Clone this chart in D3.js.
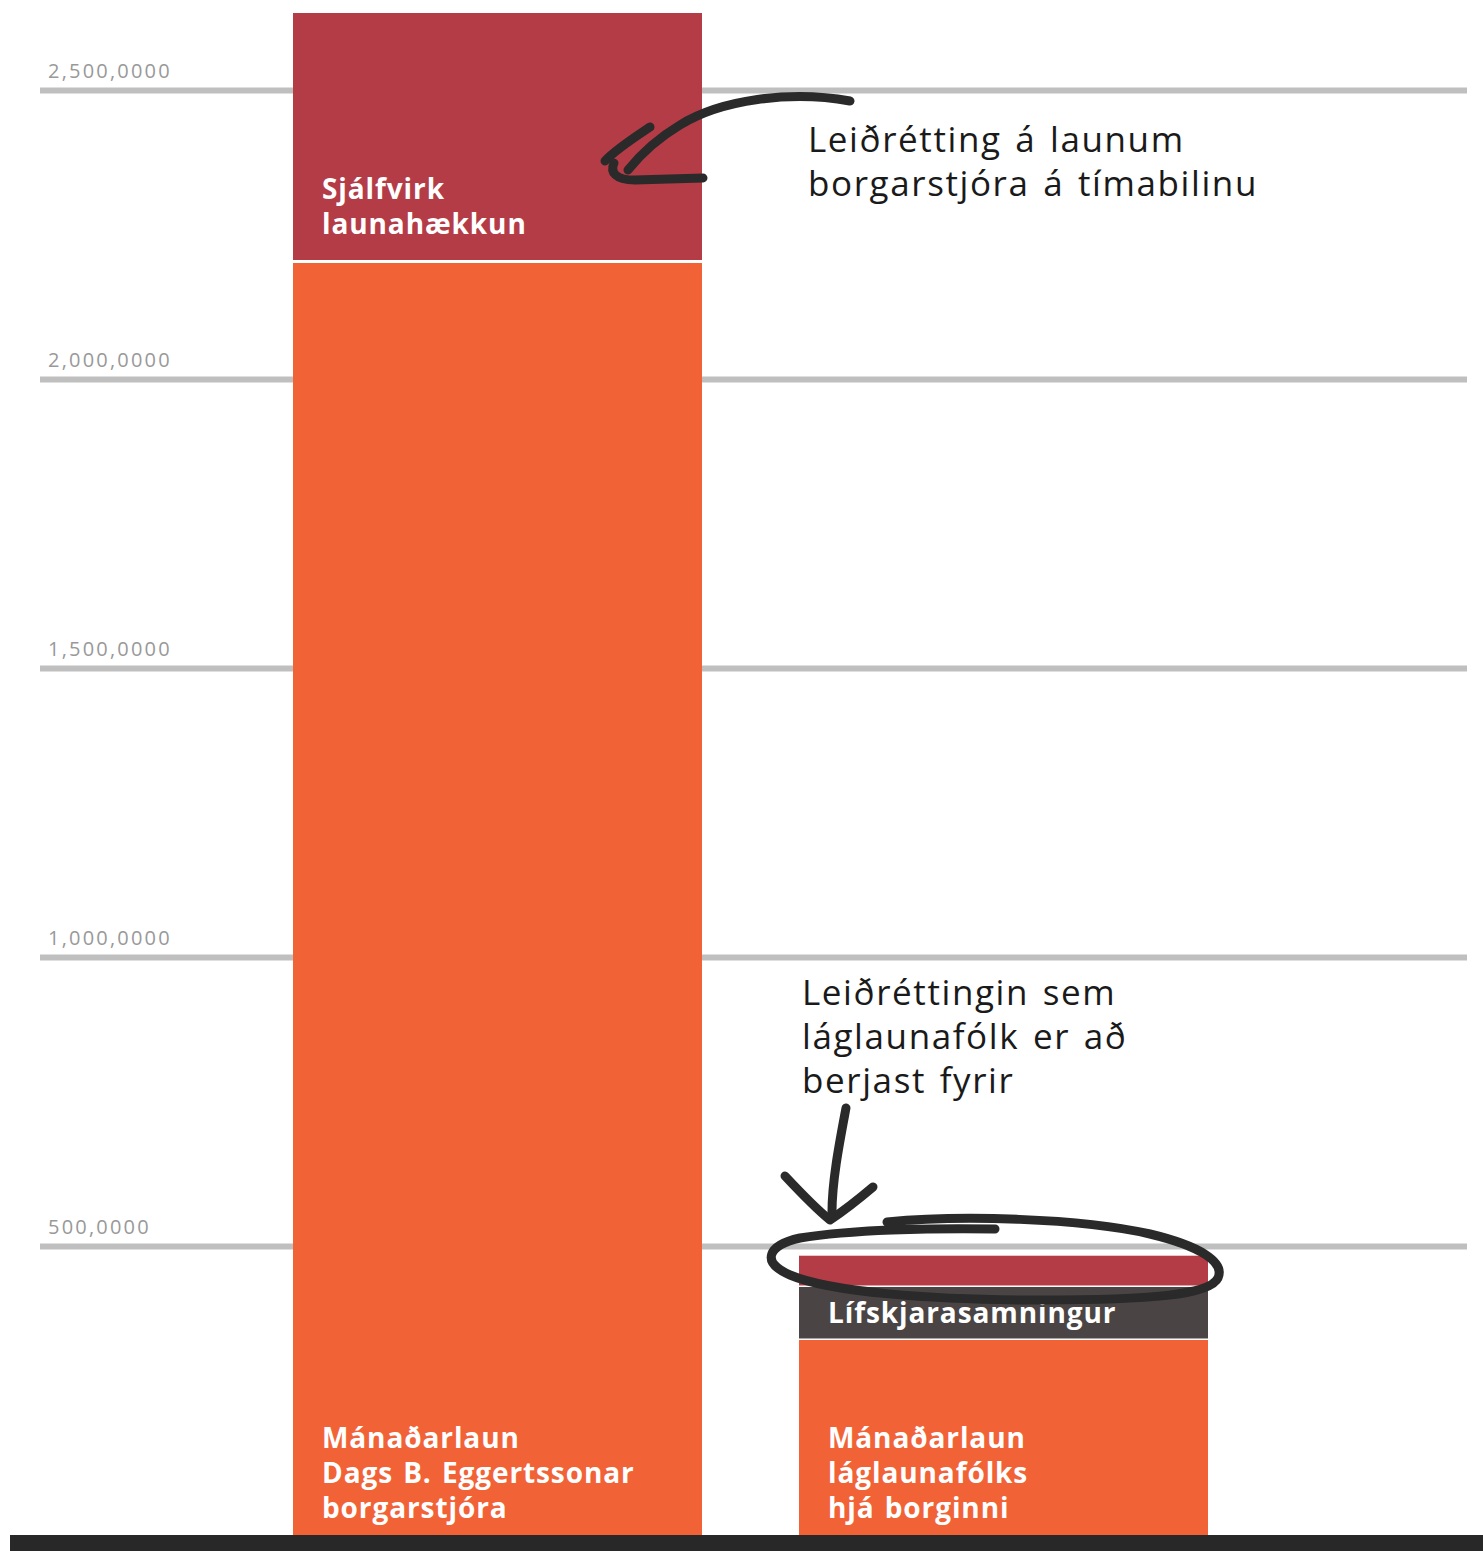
<!DOCTYPE html>
<html>
<head>
<meta charset="utf-8">
<script src="https://cdn.jsdelivr.net/npm/d3@7"></script>
<style>
body { margin: 0; background: #fff; }
svg { display: block; }
</style>
</head>
<body>
<script>
//chart data
var categories = ["borgarstjori", "laglaunafolk"];
var seriesNames = ["grunnlaun", "lifskjara", "leidretting"];
var grunnlaun = [2200700, 337400];
var lifskjara = [0, 91700];
var leidretting = [432500, 54100];

var segmentLabels = {
    grunnlaun: [["Mánaðarlaun", "Dags B. Eggertssonar", "borgarstjóra"], ["Mánaðarlaun", "láglaunafólks", "hjá borginni"]],
    lifskjara: [[], ["Lífskjarasamningur"]],
    leidretting: [["Sjálfvirk", "launahækkun"], []]
};

var tickValues = [500000, 1000000, 1500000, 2000000, 2500000];
var tickLabels = ["500,0000", "1,000,0000", "1,500,0000", "2,000,0000", "2,500,0000"];

var noteTop = ["Leiðrétting á launum", "borgarstjóra á tímabilinu"];
var noteBottom = ["Leiðréttingin sem", "láglaunafólk er að", "berjast fyrir"];

window.onload = function(){

    var w = 1483, h = 1551;
    var font = "'Open Sans', 'Noto Sans', sans-serif";

    var colors = { grunnlaun: "#F26237", lifskjara: "#4A4544", leidretting: "#B43C47" };
    var labelPad = { grunnlaun: 17, lifskjara: 15, leidretting: 26 };
    var gaps = [3, 1.5]; //white seam between stacked pieces, per bar

    var svg = d3.select("body")
        .append("svg")
        .attr("width", w)
        .attr("height", h);

    //scales
    var x = d3.scaleBand()
        .domain(categories)
        .range([293, 1208])
        .paddingInner(0.1917)
        .paddingOuter(0);

    var y = d3.scaleLinear()
        .domain([0, 2500000])
        .range([1535, 90]);

    //gridlines through the axis generator
    var yAxis = d3.axisLeft(y)
        .tickValues(tickValues)
        .tickSize(-(1467 - 40))
        .tickFormat(function(d, i){ return tickLabels[i]; });

    var axis = svg.append("g")
        .attr("class", "axis")
        .attr("transform", "translate(40,0)")
        .call(yAxis);

    axis.select(".domain").remove();
    axis.selectAll(".tick line")
        .attr("stroke", "#bfbfbf")
        .attr("stroke-width", 6);
    axis.selectAll(".tick text")
        .attr("x", 8)
        .attr("dy", "-13")
        .attr("text-anchor", "start")
        .style("font-family", font)
        .style("font-size", "20px")
        .style("letter-spacing", "2.2px")
        .style("fill", "#999999");

    //stacked bars
    var rows = categories.map(function(c, i){
        return { cat: c, grunnlaun: grunnlaun[i], lifskjara: lifskjara[i], leidretting: leidretting[i] };
    });
    var stack = d3.stack().keys(seriesNames)(rows);

    var layers = svg.selectAll(".layer")
        .data(stack)
        .enter()
        .append("g")
        .attr("class", "layer")
        .style("fill", function(d){ return colors[d.key]; });

    layers.selectAll("rect")
        .data(function(d){
            return d.map(function(p, i){ return { key: d.key, idx: d.index, i: i, p: p }; });
        })
        .enter()
        .append("rect")
        .attr("x", function(d){ return x(d.p.data.cat); })
        .attr("width", x.bandwidth())
        .attr("y", function(d){ return y(d.p[1]); })
        .attr("height", function(d){
            var hgt = y(d.p[0]) - y(d.p[1]);
            if (d.idx > 0) hgt -= gaps[d.i];
            return Math.max(0, hgt);
        });

    //labels inside the pieces
    stack.forEach(function(layer){
        layer.forEach(function(p, i){
            var lines = segmentLabels[layer.key][i];
            if (!lines.length) return;
            var bottom = y(p[0]) - (layer.index > 0 ? gaps[i] : 0);
            var last = bottom - labelPad[layer.key];
            var lh = 35;
            var t = svg.append("text")
                .attr("class", "segLabel")
                .style("font-family", font)
                .style("font-weight", 700)
                .style("font-size", "28px")
                .style("letter-spacing", "0.9px")
                .style("word-spacing", "2px")
                .style("fill", "#ffffff");
            lines.forEach(function(line, k){
                t.append("tspan")
                    .attr("x", x(p.data.cat) + 29)
                    .attr("y", last - (lines.length - 1 - k) * lh)
                    .text(line);
            });
        });
    });

    //notes
    function note(lines, x0, y0){
        var t = svg.append("text")
            .style("font-family", font)
            .style("font-size", "35px")
            .style("letter-spacing", "1.6px")
            .style("word-spacing", "3px")
            .style("fill", "#1a1a1a");
        lines.forEach(function(line, k){
            t.append("tspan")
                .attr("x", x0)
                .attr("y", y0 + k * 44)
                .text(line);
        });
    }
    note(noteTop, 808, 152);
    note(noteBottom, 802, 1005);

    //hand drawn marks
    var ink = svg.append("g")
        .attr("fill", "none")
        .attr("stroke", "#2a2a2a")
        .attr("stroke-width", 9)
        .attr("stroke-linecap", "round")
        .attr("stroke-linejoin", "round");

    ink.append("path").attr("d", "M850,101 C790,90 720,100 680,125 C655,140 640,155 628,170");
    ink.append("path").attr("d", "M650,127 C635,137 615,150 605,161");
    ink.append("path").attr("d", "M614,163 C610,172 615,180 635,180 L703,178");

    ink.append("path").attr("d", "M846,1108 C840,1140 832,1180 832,1212");
    ink.append("path").attr("d", "M785,1176 C800,1192 815,1208 830,1220 C845,1210 860,1198 873,1187");

    ink.append("path").attr("d", "M887,1222 C960,1215 1080,1218 1150,1234 C1200,1246 1225,1262 1218,1278 C1210,1295 1150,1300 1040,1300 C930,1300 830,1292 790,1275 C760,1262 768,1245 800,1238 C850,1230 930,1228 995,1229");

    //baseline
    svg.append("rect")
        .attr("x", 10)
        .attr("y", y(0))
        .attr("width", w - 10)
        .attr("height", h - y(0))
        .style("fill", "#282828");
};
</script>
</body>
</html>
